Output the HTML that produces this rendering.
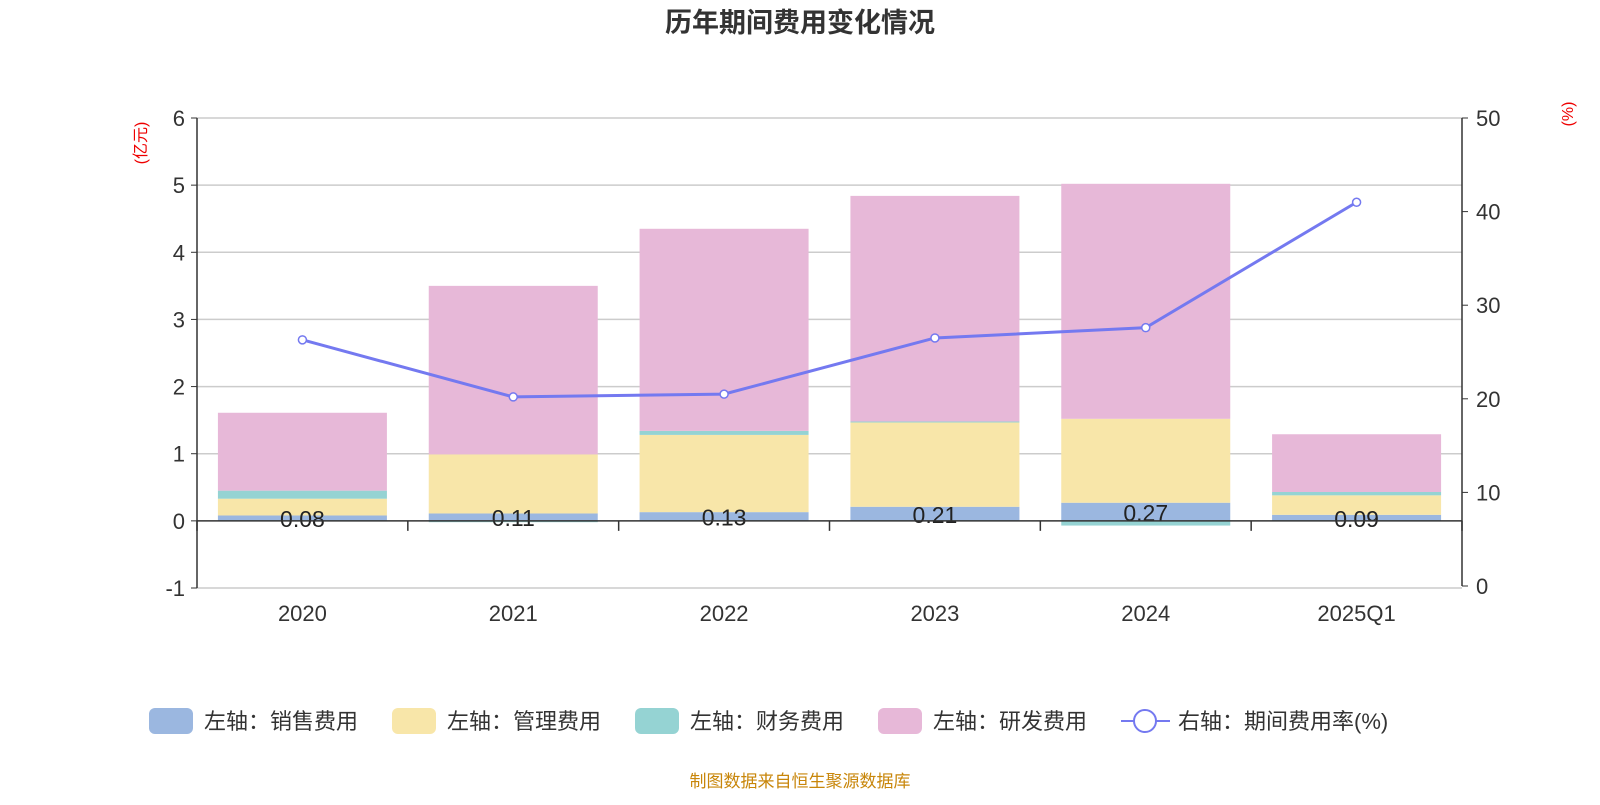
<!DOCTYPE html>
<html><head><meta charset="utf-8"><style>
body{margin:0;background:#fff;width:1600px;height:800px;overflow:hidden;font-family:"Liberation Sans","Noto Sans CJK SC",sans-serif}
svg text{font-family:"Liberation Sans","Noto Sans CJK SC",sans-serif}
</style></head><body>
<svg id="chart" width="1600" height="800">
<text x="800" y="32" text-anchor="middle" font-size="27" font-weight="bold" fill="#333">历年期间费用变化情况</text>
<text transform="translate(146,143) rotate(-90)" text-anchor="middle" font-size="16" fill="#e00">(亿元)</text>
<text transform="translate(1573,114) rotate(-90)" text-anchor="middle" font-size="16" fill="#e00">(%)</text>
<g id="grid"></g><g id="bars"></g><g id="axes"></g><g id="line"></g>
<g id="legend"></g>
<text x="800" y="787" text-anchor="middle" font-size="17" fill="#c8860a">制图数据来自恒生聚源数据库</text>
</svg>
<script>
const categories=["2020","2021","2022","2023","2024","2025Q1"];
const sales=[0.08,0.11,0.13,0.21,0.27,0.09];
const mgmt=[0.25,0.88,1.15,1.26,1.25,0.29];
const fin=[0.12,-0.02,0.06,0.01,-0.07,0.05];
const rd=[1.16,2.51,3.01,3.36,3.50,0.86];
const rate=[26.3,20.2,20.5,26.5,27.6,41.0];
const leftTicks=[-1,0,1,2,3,4,5,6];
const rightTicks=[0,10,20,30,40,50];
const NS="http://www.w3.org/2000/svg";
const X0=197,X1=1462,YT=118,YB=588;
const yL=v=>YB-(v+1)/7*(YB-YT);
const yR=v=>586-v/50*(586-YT);
const bw=(X1-X0)/categories.length;
const xc=i=>X0+bw*(i+0.5);
function mk(t,a,p){const e=document.createElementNS(NS,t);for(const k in a)e.setAttribute(k,a[k]);document.getElementById(p).appendChild(e);return e;}
leftTicks.forEach(v=>{
 if(v!==0&&v!==-1){const g=mk('line',{x1:X0,x2:X1,y1:yL(v),y2:yL(v),stroke:'#ccc','stroke-width':1.5},'grid');}
 const t=mk('text',{x:X0-12,y:yL(v)+8,'text-anchor':'end','font-size':22,fill:'#333'},'axes');t.textContent=v;
 
 mk('line',{x1:X0-6,x2:X0,y1:yL(v),y2:yL(v),stroke:'#333'},'axes');
});
mk('line',{x1:X0,x2:X1,y1:YB,y2:YB,stroke:'#ccc','stroke-width':1.5},'grid');
rightTicks.forEach(v=>{
 const t=mk('text',{x:X1+14,y:yR(v)+8,'font-size':22,fill:'#333'},'axes');t.textContent=v;
 
 mk('line',{x1:X1,x2:X1+6,y1:yR(v),y2:yR(v),stroke:'#333'},'axes');
});
mk('line',{x1:X0,x2:X0,y1:YT,y2:YB,stroke:'#333','stroke-width':1.5},'axes');
mk('line',{x1:X1,x2:X1,y1:YT,y2:586,stroke:'#333','stroke-width':1.5},'axes');
const colors=['#9bb7e0','#f8e6a9','#95d3d3','#e7b8d8'];
const series=[sales,mgmt,fin,rd];
const bwid=169;
categories.forEach((c,i)=>{
 let pos=0,neg=0;
 series.forEach((s,k)=>{
  const v=s[i];let y0,y1;
  if(v>=0){y0=pos;y1=pos+v;pos=y1;}else{y0=neg;y1=neg+v;neg=y1;}
  const top=Math.min(yL(y0),yL(y1)),h=Math.abs(yL(y1)-yL(y0));
  const r=mk('rect',{x:xc(i)-bwid/2,y:top,width:bwid,height:Math.max(h,1),fill:colors[k]},'bars');
  
 });
 const t=mk('text',{x:xc(i),y:yL(sales[i]/2)+9,'text-anchor':'middle','font-size':23,fill:'#222'},'bars');t.textContent=sales[i].toFixed(2);
 
 const xl=mk('text',{x:xc(i),y:621,'text-anchor':'middle','font-size':22,fill:'#333'},'axes');xl.textContent=c;
 
});
mk('line',{x1:X0,x2:X1,y1:yL(0),y2:yL(0),stroke:'#333','stroke-width':1.5},'axes');
for(let i=0;i<=categories.length;i++)mk('line',{x1:X0+bw*i,x2:X0+bw*i,y1:yL(0),y2:yL(0)+10,stroke:'#333','stroke-width':1.5},'axes');
const pl=mk('polyline',{points:rate.map((v,i)=>xc(i)+','+yR(v)).join(' '),fill:'none',stroke:'#7479f0','stroke-width':3},'line');

rate.forEach((v,i)=>{const c=mk('circle',{cx:xc(i),cy:yR(v),r:4,fill:'#fff',stroke:'#7479f0','stroke-width':1.5},'line');
 });
const legendNames=['左轴：销售费用','左轴：管理费用','左轴：财务费用','左轴：研发费用'];
const lx=[149,392,635,878];
legendNames.forEach((n,k)=>{
 const r=mk('rect',{x:lx[k],y:708,width:44,height:26,rx:6,fill:colors[k]},'legend');
 
 const t=mk('text',{x:lx[k]+55,y:729,'font-size':22,fill:'#333'},'legend');t.textContent=n;
 
});
mk('line',{x1:1121,x2:1170,y1:721,y2:721,stroke:'#7479f0','stroke-width':2},'legend');
mk('circle',{cx:1145,cy:721,r:11,fill:'#fff',stroke:'#7479f0','stroke-width':2},'legend');
const lt=mk('text',{x:1178,y:729,'font-size':22,fill:'#333'},'legend');lt.textContent='右轴：期间费用率(%)';

</script>
</body></html>
